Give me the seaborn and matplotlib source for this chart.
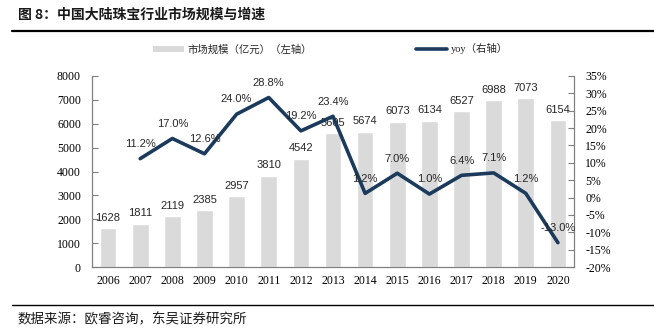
import matplotlib
matplotlib.use("Agg")
import matplotlib.pyplot as plt
import seaborn as sns
import pandas as pd
import numpy as np
from matplotlib.lines import Line2D
from matplotlib.patches import Patch

years = [2006, 2007, 2008, 2009, 2010, 2011, 2012, 2013, 2014, 2015, 2016, 2017, 2018, 2019, 2020]
market = [1628, 1811, 2119, 2385, 2957, 3810, 4542, 5605, 5674, 6073, 6134, 6527, 6988, 7073, 6154]
yoy = [np.nan, 11.2, 17.0, 12.6, 24.0, 28.8, 19.2, 23.4, 1.2, 7.0, 1.0, 6.4, 7.1, 1.2, -13.0]

title = "图 8：中国大陆珠宝行业市场规模与增速"
source = "数据来源：欧睿咨询，东吴证券研究所"
bar_label = "市场规模（亿元）（左轴）"
line_label = "yoy（右轴）"

df = pd.DataFrame({"year": years, "market": market, "yoy": yoy})

sns.set_theme(style="white")
plt.rcParams['font.family'] = ['Liberation Serif', 'Noto Sans CJK SC', 'DejaVu Sans']

BAR = "#DADADA"
LINE = "#1B3A5C"

fig = plt.figure(figsize=(6.54, 3.30), dpi=100)
ax = fig.add_axes([92/654, 63/330, 482/654, 191/330])

sns.barplot(data=df, x="year", y="market", native_scale=True, width=0.52,
            color=BAR, saturation=1, ax=ax, zorder=1)
ax.set_xlim(2005.5, 2020.5)
ax.set_ylim(0, 8000)
ax.set_yticks(range(0, 8001, 1000))
ax.set_xticks(years)
ax.set_xticklabels([str(y) for y in years])
ax.set_xlabel("")
ax.set_ylabel("")

ax2 = ax.twinx()
sns.lineplot(data=df.dropna(), x="year", y="yoy", color=LINE, lw=2.6, ax=ax2, zorder=3)
ax2.set_ylim(-20, 35)
ax2.set_yticks(range(-20, 36, 5))
ax2.set_yticklabels([f"{v}%" for v in range(-20, 36, 5)])
ax2.set_ylabel("")
ax2.set_xlim(2005.5, 2020.5)

for a in (ax, ax2):
    for s in a.spines.values():
        s.set_color("#7F7F7F")
        s.set_linewidth(0.8)
    a.spines['top'].set_visible(False)
    a.grid(False)

ax.tick_params(axis='y', direction='in', length=4, width=0.8, color="#7F7F7F",
               labelsize=8.5, pad=8, labelcolor="black")
ax.tick_params(axis='x', length=0, labelsize=8.5, pad=6, labelcolor="black")
ax2.tick_params(axis='y', direction='in', length=4, width=0.8, color="#7F7F7F",
                labelsize=8.5, pad=8, labelcolor="black")

for x, v in zip(years, market):
    ax.annotate(f"{v}", (x, v), xytext=(0, 4), textcoords="offset points",
                ha="center", va="bottom", fontsize=8, family="Liberation Sans", zorder=2)
for x, v in zip(years, yoy):
    if np.isnan(v):
        continue
    ax2.annotate(f"{v:.1f}%", (x, v), xytext=(0, 7), textcoords="offset points",
                 ha="center", va="bottom", fontsize=8, family="Liberation Sans", zorder=4)

handles = [Patch(facecolor=BAR, edgecolor="none"),
           Line2D([0], [0], color=LINE, lw=2.6)]
fig.legend(handles, [bar_label, line_label], loc="center", bbox_to_anchor=(0.505, 1 - 49/330),
           ncol=2, frameon=False, columnspacing=10, handlelength=3.0,
           handletextpad=0.3, handleheight=0.6,
           prop={'family': ['Liberation Serif', 'Noto Sans CJK SC'], 'size': 7.5})

fig.text(18/654, 1 - 15/330, title, ha="left", va="center", fontsize=10,
         fontweight="bold", family=['Noto Sans CJK SC'], color="#1a1a1a")
fig.add_artist(Line2D([12/654, 1], [1 - 31/330, 1 - 31/330], color="black", lw=1.6))
fig.add_artist(Line2D([12/654, 1], [1 - 305/330, 1 - 305/330], color="black", lw=1.0))
fig.text(18/654, 1 - 319/330, source, ha="left", va="center", fontsize=9.7,
         family=['Noto Sans CJK SC'], color="#1a1a1a")

fig.savefig("out.png", dpi=100)
